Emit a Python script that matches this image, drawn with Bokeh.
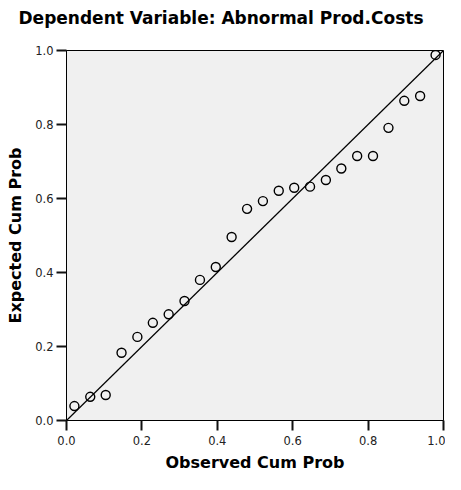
from bokeh.plotting import figure
from bokeh.models import Slope, FixedTicker, PrintfTickFormatter, Range1d, Title
from bokeh.embed import file_html
from bokeh.resources import INLINE

# Data
observed_cum_prob = [0.021, 0.063, 0.104, 0.146, 0.188, 0.229, 0.271, 0.313,
                     0.354, 0.396, 0.438, 0.479, 0.521, 0.563, 0.604, 0.646,
                     0.688, 0.729, 0.771, 0.813, 0.854, 0.896, 0.938, 0.979]
expected_cum_prob = [0.039, 0.064, 0.069, 0.183, 0.226, 0.264, 0.287, 0.323,
                     0.380, 0.415, 0.496, 0.572, 0.593, 0.621, 0.629, 0.632,
                     0.650, 0.681, 0.715, 0.715, 0.791, 0.864, 0.877, 0.988]
tick_values = [0.0, 0.2, 0.4, 0.6, 0.8, 1.0]

title_text = "Dependent Variable: Abnormal Prod.Costs"
x_label = "Observed Cum Prob"
y_label = "Expected Cum Prob"

p = figure(width=445, height=474, output_backend="svg", toolbar_location=None,
           x_range=Range1d(0, 1), y_range=Range1d(0, 1),
           min_border_left=66, min_border_right=2, min_border_top=47,
           min_border_bottom=50, title=title_text)

p.background_fill_color = "#f0f0f0"
p.border_fill_color = "white"
p.outline_line_color = "black"
p.outline_line_width = 1
p.xgrid.visible = False
p.ygrid.visible = False

# main title (outermost panel)
p.title.text_font = "DejaVu Sans"
p.title.text_font_size = "17px"
p.title.text_font_style = "bold"
p.title.text_color = "black"
p.title.align = "left"
p.title.offset = -48

# spacer panel between title and frame
spacer = Title(text=" ", text_font_size="6px")
p.add_layout(spacer, "above")

for ax in (p.xaxis[0], p.yaxis[0]):
    ax.ticker = FixedTicker(ticks=tick_values)
    ax.formatter = PrintfTickFormatter(format="%.1f")
    ax.major_tick_out = 10
    ax.major_tick_in = 0
    ax.major_tick_line_color = "#111111"
    ax.major_tick_line_width = 2
    ax.axis_line_color = "black"
    ax.axis_line_width = 1
    ax.major_label_text_font = "DejaVu Sans"
    ax.major_label_text_font_size = "11.5px"
    ax.major_label_text_color = "#222222"
    ax.axis_label_text_font = "DejaVu Sans"
    ax.axis_label_text_font_size = "16px"
    ax.axis_label_text_font_style = "bold"
    ax.axis_label_text_color = "black"

p.xaxis.axis_label = x_label
p.yaxis.axis_label = y_label
p.xaxis.major_label_standoff = 5
p.xaxis.axis_label_standoff = 5
p.yaxis.major_label_standoff = 3
p.yaxis.axis_label_standoff = 7

p.add_layout(Slope(gradient=1, y_intercept=0, line_color="black", line_width=1.2))

p.scatter(observed_cum_prob, expected_cum_prob, marker="circle", size=9,
          fill_alpha=0, line_color="black", line_width=1.4)

open("out.html", "w").write(file_html(p, INLINE))
